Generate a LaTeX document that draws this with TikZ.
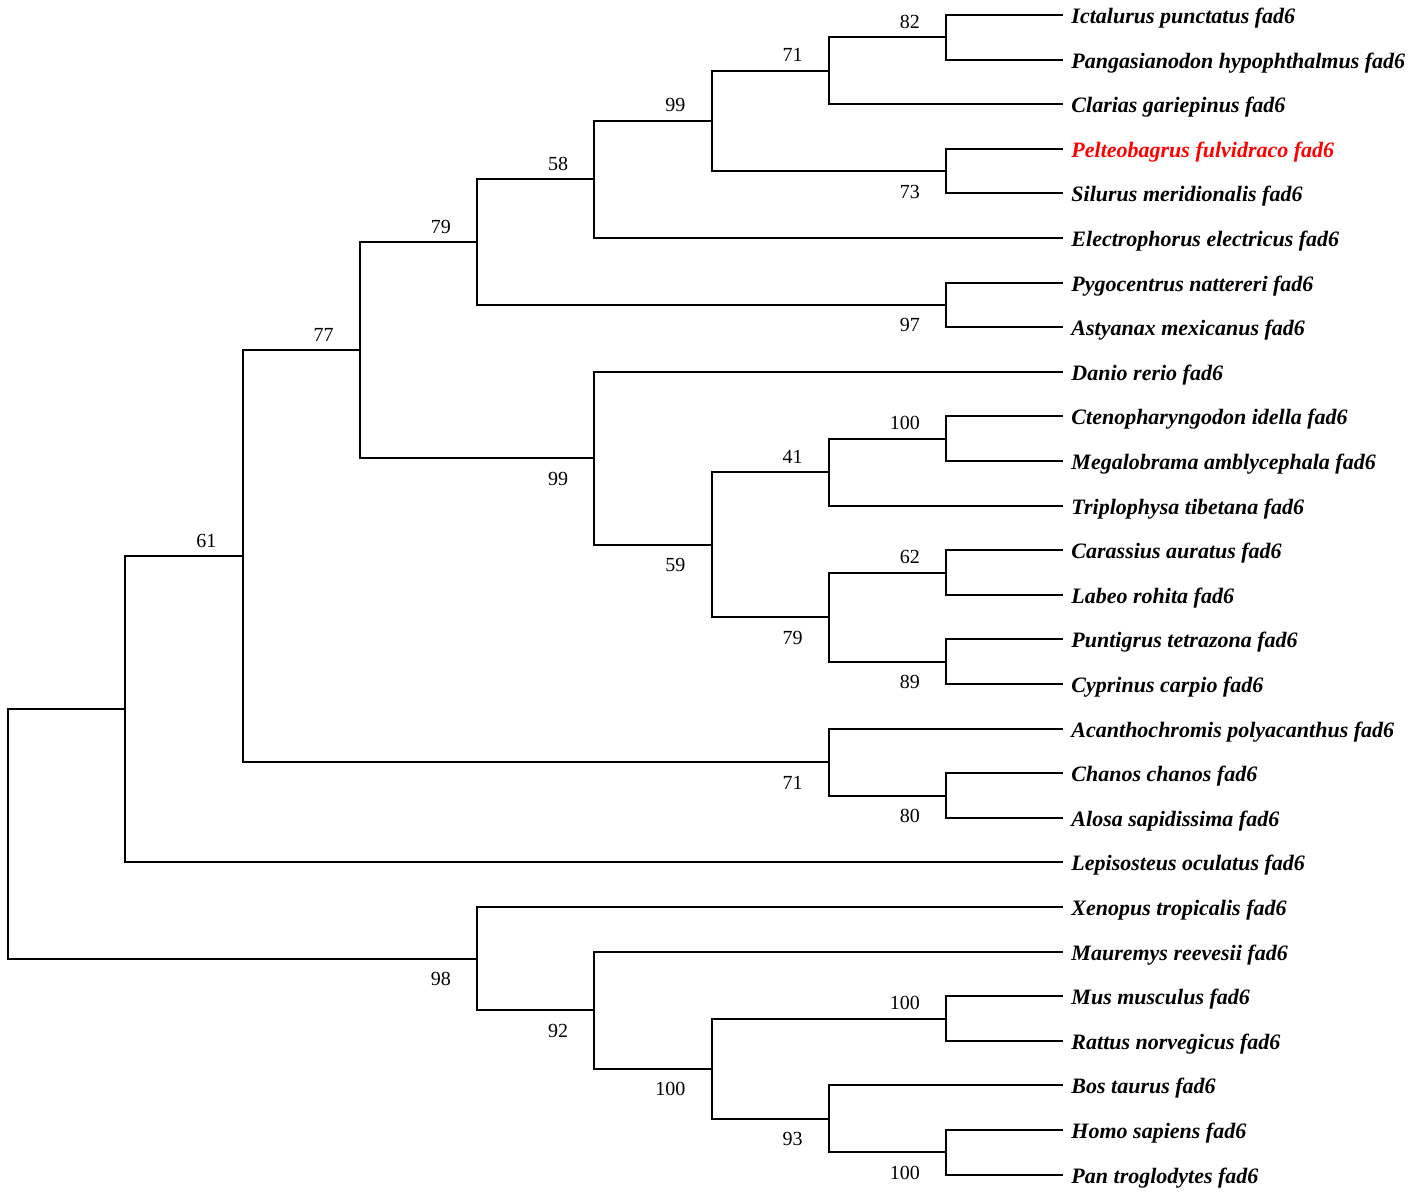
\documentclass[tikz,border=0pt]{standalone}
\usepackage{fontspec}
\setmainfont{Liberation Serif}
\usepackage{xcolor}

\tikzset{
  leaf/.style   = {anchor=west, inner xsep=8pt, inner ysep=0pt,
                   text height=17pt, text depth=0pt,
                   font=\fontsize{22}{26}\selectfont\bfseries\itshape},
  branch/.style = {line width=2pt, black},
  bsup/.style   = {anchor=base east, inner sep=0pt, xshift=-26pt, yshift=9pt,
                   font=\fontsize{20}{24}\selectfont},
  bsdown/.style = {anchor=base east, inner sep=0pt, xshift=-26pt, yshift=-27pt,
                   font=\fontsize{20}{24}\selectfont}
}

\begin{document}
\begin{tikzpicture}[x=117.25pt, y=-44.6pt]
\useasboundingbox (-8pt,15pt) rectangle (1409pt,-1178pt);

% leaves
\node[leaf] (ictpun) at (9,0)  {Ictalurus punctatus fad6};
\node[leaf] (panhyp) at (9,1)  {Pangasianodon hypophthalmus fad6};
\node[leaf] (clagar) at (9,2)  {Clarias gariepinus fad6};
\node[leaf, text=red] (pelful) at (9,3) {Pelteobagrus fulvidraco fad6};
\node[leaf] (silmer) at (9,4)  {Silurus meridionalis fad6};
\node[leaf] (eleele) at (9,5)  {Electrophorus electricus fad6};
\node[leaf] (pygnat) at (9,6)  {Pygocentrus nattereri fad6};
\node[leaf] (astmex) at (9,7)  {Astyanax mexicanus fad6};
\node[leaf] (danrer) at (9,8)  {Danio rerio fad6};
\node[leaf] (cteide) at (9,9)  {Ctenopharyngodon idella fad6};
\node[leaf] (megamb) at (9,10) {Megalobrama amblycephala fad6};
\node[leaf] (tritib) at (9,11) {Triplophysa tibetana fad6};
\node[leaf] (caraur) at (9,12) {Carassius auratus fad6};
\node[leaf] (labroh) at (9,13) {Labeo rohita fad6};
\node[leaf] (puntet) at (9,14) {Puntigrus tetrazona fad6};
\node[leaf] (cypcar) at (9,15) {Cyprinus carpio fad6};
\node[leaf] (acapol) at (9,16) {Acanthochromis polyacanthus fad6};
\node[leaf] (chacha) at (9,17) {Chanos chanos fad6};
\node[leaf] (alosap) at (9,18) {Alosa sapidissima fad6};
\node[leaf] (lepocu) at (9,19) {Lepisosteus oculatus fad6};
\node[leaf] (xentro) at (9,20) {Xenopus tropicalis fad6};
\node[leaf] (maurre) at (9,21) {Mauremys reevesii fad6};
\node[leaf] (musmus) at (9,22) {Mus musculus fad6};
\node[leaf] (ratnor) at (9,23) {Rattus norvegicus fad6};
\node[leaf] (bostau) at (9,24) {Bos taurus fad6};
\node[leaf] (homsap) at (9,25) {Homo sapiens fad6};
\node[leaf] (pantro) at (9,26) {Pan troglodytes fad6};

% inner nodes
\coordinate (n1)  at (8,0.5);
\coordinate (n2)  at (7,1.25);
\coordinate (n3)  at (8,3.5);
\coordinate (n4)  at (6,2.375);
\coordinate (n5)  at (5,3.6875);
\coordinate (n6)  at (8,6.5);
\coordinate (n7)  at (4,5.09375);
\coordinate (n8)  at (8,9.5);
\coordinate (n9)  at (7,10.25);
\coordinate (n10) at (8,12.5);
\coordinate (n11) at (8,14.5);
\coordinate (n12) at (7,13.5);
\coordinate (n13) at (6,11.875);
\coordinate (n14) at (5,9.9375);
\coordinate (n15) at (3,7.515625);
\coordinate (n16) at (8,17.5);
\coordinate (n17) at (7,16.75);
\coordinate (n18) at (2,12.1328);
\coordinate (n19) at (1,15.5664);
\coordinate (n20) at (8,22.5);
\coordinate (n21) at (8,25.5);
\coordinate (n22) at (7,24.75);
\coordinate (n23) at (6,23.625);
\coordinate (n24) at (5,22.3125);
\coordinate (n25) at (4,21.15625);
\coordinate (root) at (0,18.3613);

% branches
\draw[branch] (n1) |- (ictpun.west)  (n1) |- (panhyp.west);
\draw[branch] (n2) |- (n1)           (n2) |- (clagar.west);
\draw[branch] (n3) |- (pelful.west)  (n3) |- (silmer.west);
\draw[branch] (n4) |- (n2)           (n4) |- (n3);
\draw[branch] (n5) |- (n4)           (n5) |- (eleele.west);
\draw[branch] (n6) |- (pygnat.west)  (n6) |- (astmex.west);
\draw[branch] (n7) |- (n5)           (n7) |- (n6);
\draw[branch] (n8) |- (cteide.west)  (n8) |- (megamb.west);
\draw[branch] (n9) |- (n8)           (n9) |- (tritib.west);
\draw[branch] (n10) |- (caraur.west) (n10) |- (labroh.west);
\draw[branch] (n11) |- (puntet.west) (n11) |- (cypcar.west);
\draw[branch] (n12) |- (n10)         (n12) |- (n11);
\draw[branch] (n13) |- (n9)          (n13) |- (n12);
\draw[branch] (n14) |- (danrer.west) (n14) |- (n13);
\draw[branch] (n15) |- (n7)          (n15) |- (n14);
\draw[branch] (n16) |- (chacha.west) (n16) |- (alosap.west);
\draw[branch] (n17) |- (acapol.west) (n17) |- (n16);
\draw[branch] (n18) |- (n15)         (n18) |- (n17);
\draw[branch] (n19) |- (n18)         (n19) |- (lepocu.west);
\draw[branch] (n20) |- (musmus.west) (n20) |- (ratnor.west);
\draw[branch] (n21) |- (homsap.west) (n21) |- (pantro.west);
\draw[branch] (n22) |- (bostau.west) (n22) |- (n21);
\draw[branch] (n23) |- (n20)         (n23) |- (n22);
\draw[branch] (n24) |- (maurre.west) (n24) |- (n23);
\draw[branch] (n25) |- (xentro.west) (n25) |- (n24);
\draw[branch] (root) |- (n19)        (root) |- (n25);

% bootstrap values
\node[bsup]   (bs1)  at (n1)  {82};
\node[bsup]   (bs2)  at (n2)  {71};
\node[bsdown] (bs3)  at (n3)  {73};
\node[bsup]   (bs4)  at (n4)  {99};
\node[bsup]   (bs5)  at (n5)  {58};
\node[bsdown] (bs6)  at (n6)  {97};
\node[bsup]   (bs7)  at (n7)  {79};
\node[bsup]   (bs8)  at (n8)  {100};
\node[bsup]   (bs9)  at (n9)  {41};
\node[bsup]   (bs10) at (n10) {62};
\node[bsdown] (bs11) at (n11) {89};
\node[bsdown] (bs12) at (n12) {79};
\node[bsdown] (bs13) at (n13) {59};
\node[bsdown] (bs14) at (n14) {99};
\node[bsup]   (bs15) at (n15) {77};
\node[bsdown] (bs16) at (n16) {80};
\node[bsdown] (bs17) at (n17) {71};
\node[bsup]   (bs18) at (n18) {61};
\node[bsup]   (bs20) at (n20) {100};
\node[bsdown] (bs21) at (n21) {100};
\node[bsdown] (bs22) at (n22) {93};
\node[bsdown] (bs23) at (n23) {100};
\node[bsdown] (bs24) at (n24) {92};
\node[bsdown] (bs25) at (n25) {98};

\end{tikzpicture}
\end{document}
